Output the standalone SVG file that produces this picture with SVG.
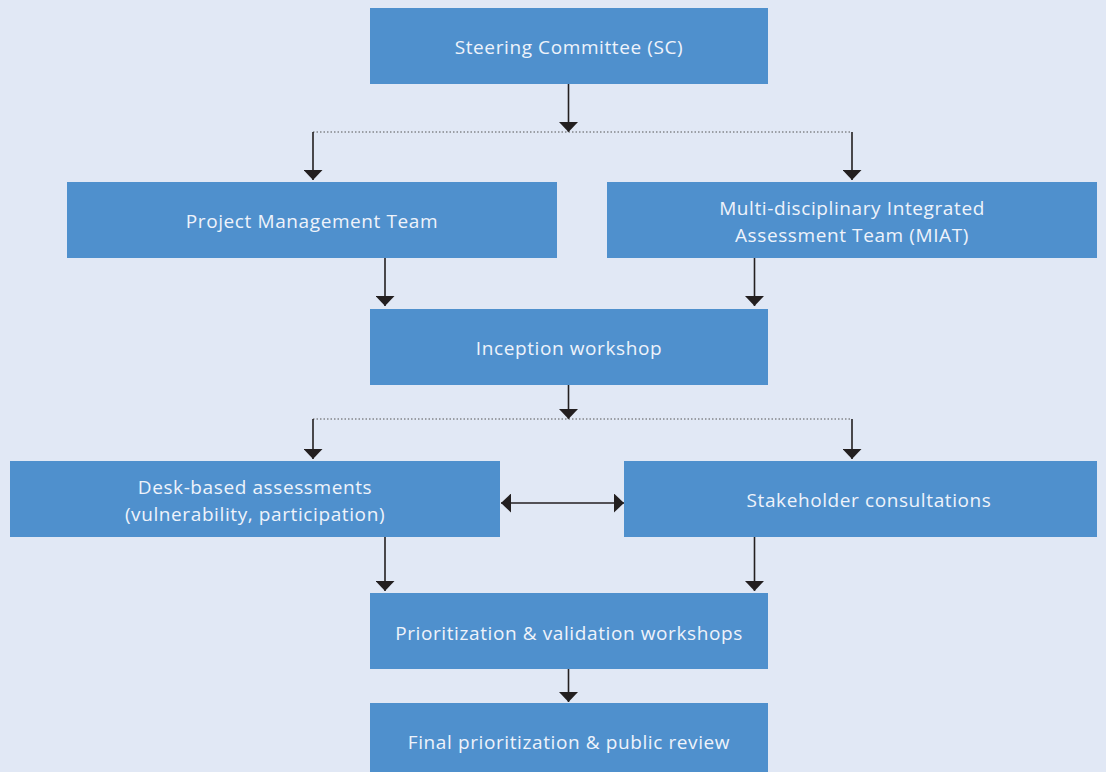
<svg xmlns="http://www.w3.org/2000/svg" width="1106" height="772" viewBox="0 0 1106 772">
<defs>
<style>
.box{fill:#4f90cd}
.t{font-family:"Open Sans","Noto Sans",sans-serif;font-size:19px;letter-spacing:0.6px;fill:#eef3fb;text-anchor:middle}
.ln{stroke:#231f20;stroke-width:1.6;fill:none}
.dot{stroke:#555;stroke-width:1;stroke-dasharray:1.5 2;fill:none}
</style>
<marker id="ah" viewBox="0 0 10 19" refX="10" refY="9.5" markerWidth="10" markerHeight="19" markerUnits="userSpaceOnUse" orient="auto-start-reverse">
<path d="M0,0 L10,9.5 L0,19 Z" fill="#231f20"/>
</marker>
</defs>
<rect width="1106" height="772" fill="#e1e8f5"/>
<g id="connectors">
<line class="ln" x1="568.5" y1="84" x2="568.5" y2="132" marker-end="url(#ah)"/>
<line class="dot" x1="313" y1="132" x2="852" y2="132"/>
<line class="ln" x1="313" y1="132" x2="313" y2="180" marker-end="url(#ah)"/>
<line class="ln" x1="852" y1="132" x2="852" y2="180" marker-end="url(#ah)"/>
<line class="ln" x1="385" y1="258" x2="385" y2="306" marker-end="url(#ah)"/>
<line class="ln" x1="754.5" y1="258" x2="754.5" y2="306" marker-end="url(#ah)"/>
<line class="ln" x1="568.5" y1="385" x2="568.5" y2="419" marker-end="url(#ah)"/>
<line class="dot" x1="313" y1="419" x2="852" y2="419"/>
<line class="ln" x1="313" y1="419" x2="313" y2="459" marker-end="url(#ah)"/>
<line class="ln" x1="852" y1="419" x2="852" y2="459" marker-end="url(#ah)"/>
<line class="ln" x1="501" y1="503" x2="624" y2="503" marker-start="url(#ah)" marker-end="url(#ah)"/>
<line class="ln" x1="385" y1="537" x2="385" y2="591" marker-end="url(#ah)"/>
<line class="ln" x1="754.5" y1="537" x2="754.5" y2="591" marker-end="url(#ah)"/>
<line class="ln" x1="568.5" y1="669" x2="568.5" y2="702" marker-end="url(#ah)"/>
</g>
<g id="sc"><rect class="box" x="370" y="8" width="398" height="76"/><text class="t" x="569" y="54">Steering Committee (SC)</text></g>
<g id="pmt"><rect class="box" x="67" y="182" width="490" height="76"/><text class="t" x="312" y="228">Project Management Team</text></g>
<g id="miat"><rect class="box" x="607" y="182" width="490" height="76"/><text class="t" x="852" y="215">Multi-disciplinary Integrated</text><text class="t" x="852" y="242">Assessment Team (MIAT)</text></g>
<g id="inception"><rect class="box" x="370" y="309" width="398" height="76"/><text class="t" x="569" y="355">Inception workshop</text></g>
<g id="desk"><rect class="box" x="10" y="461" width="490" height="76"/><text class="t" x="255" y="494">Desk-based assessments</text><text class="t" x="255" y="521">(vulnerability, participation)</text></g>
<g id="stakeholder"><rect class="box" x="624" y="461" width="473" height="76"/><text class="t" x="869" y="507">Stakeholder consultations</text></g>
<g id="prioritization"><rect class="box" x="370" y="593" width="398" height="76"/><text class="t" x="569" y="640">Prioritization &amp; validation workshops</text></g>
<g id="final"><rect class="box" x="370" y="703" width="398" height="69"/><text class="t" x="569" y="749">Final prioritization &amp; public review</text></g>
</svg>
